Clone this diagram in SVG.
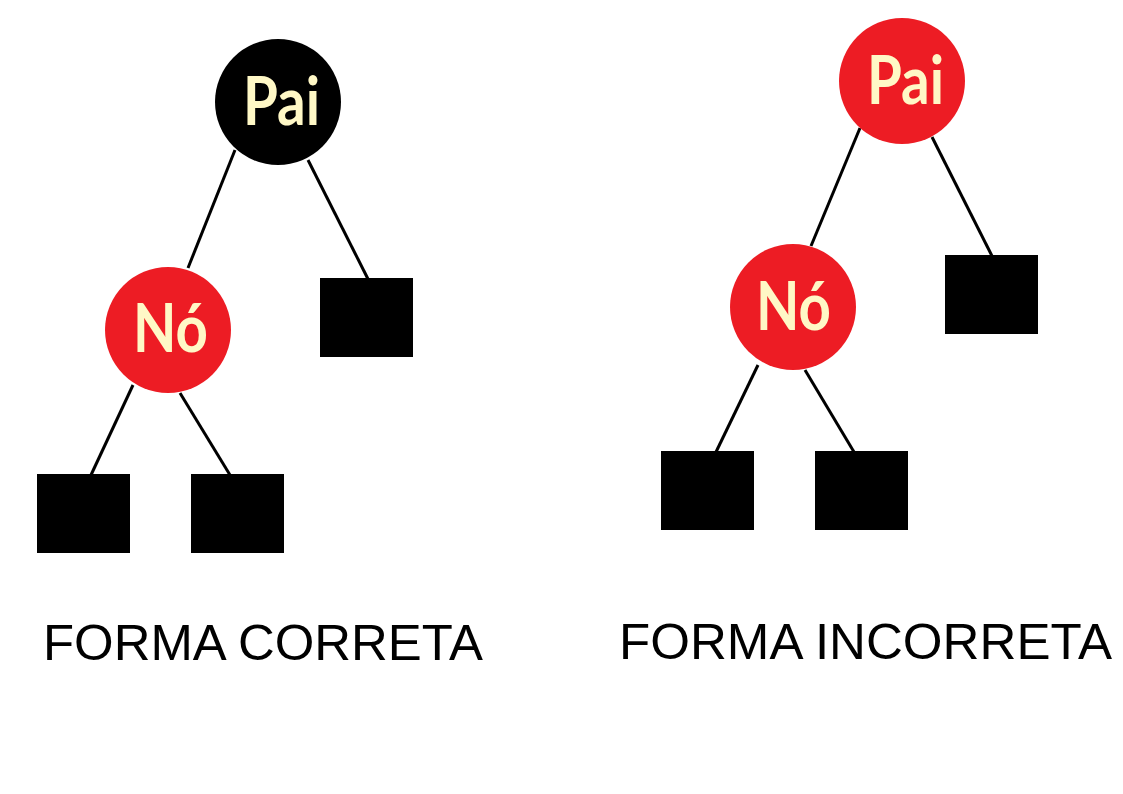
<svg xmlns="http://www.w3.org/2000/svg" width="1123" height="794" viewBox="0 0 1123 794">
<style>
.edge{stroke:#000;stroke-width:3;fill:none}
.leaf{fill:#000}
.red{fill:#ED1C24}
.blk{fill:#000}
.nt{font-family:Lato,"Open Sans","DejaVu Sans",sans-serif;font-weight:700;font-size:66px;fill:#FFF8C6}
.lbl{font-family:"Liberation Sans",Arial,sans-serif;font-size:50px;fill:#000}
</style>
<rect width="1123" height="794" fill="#fff"/>
<g id="connectors">
<line class="edge" x1="235" y1="150" x2="188" y2="268"/>
<line class="edge" x1="308" y1="160" x2="368" y2="279"/>
<line class="edge" x1="133" y1="385" x2="91" y2="475"/>
<line class="edge" x1="180" y1="393" x2="230" y2="475"/>
<line class="edge" x1="860" y1="128" x2="811" y2="246"/>
<line class="edge" x1="932" y1="137" x2="992" y2="256"/>
<line class="edge" x1="758" y1="365" x2="716" y2="452"/>
<line class="edge" x1="805" y1="370" x2="854" y2="452"/>
</g>
<g id="pai-left">
<circle class="blk" cx="278" cy="102" r="63"/>
<text class="nt" x="243" y="125" textLength="77" lengthAdjust="spacingAndGlyphs">Pai</text>
</g>
<g id="no-left">
<circle class="red" cx="168" cy="330" r="63"/>
<text class="nt" x="133" y="352" textLength="75" lengthAdjust="spacingAndGlyphs">Nó</text>
</g>
<g id="leaf-l1"><rect class="leaf" x="320" y="278" width="93" height="79"/></g>
<g id="leaf-l2"><rect class="leaf" x="37" y="474" width="93" height="79"/></g>
<g id="leaf-l3"><rect class="leaf" x="191" y="474" width="93" height="79"/></g>
<g id="pai-right">
<circle class="red" cx="902" cy="81" r="63"/>
<text class="nt" x="867" y="104" textLength="77" lengthAdjust="spacingAndGlyphs">Pai</text>
</g>
<g id="no-right">
<circle class="red" cx="793" cy="307" r="63"/>
<text class="nt" x="756" y="330" textLength="75" lengthAdjust="spacingAndGlyphs">Nó</text>
</g>
<g id="leaf-r1"><rect class="leaf" x="945" y="255" width="93" height="79"/></g>
<g id="leaf-r2"><rect class="leaf" x="661" y="451" width="93" height="79"/></g>
<g id="leaf-r3"><rect class="leaf" x="815" y="451" width="93" height="79"/></g>
<g id="labels">
<text class="lbl" x="43" y="660" textLength="440" lengthAdjust="spacingAndGlyphs">FORMA CORRETA</text>
<text class="lbl" x="619" y="659" textLength="493" lengthAdjust="spacingAndGlyphs">FORMA INCORRETA</text>
</g>
</svg>
